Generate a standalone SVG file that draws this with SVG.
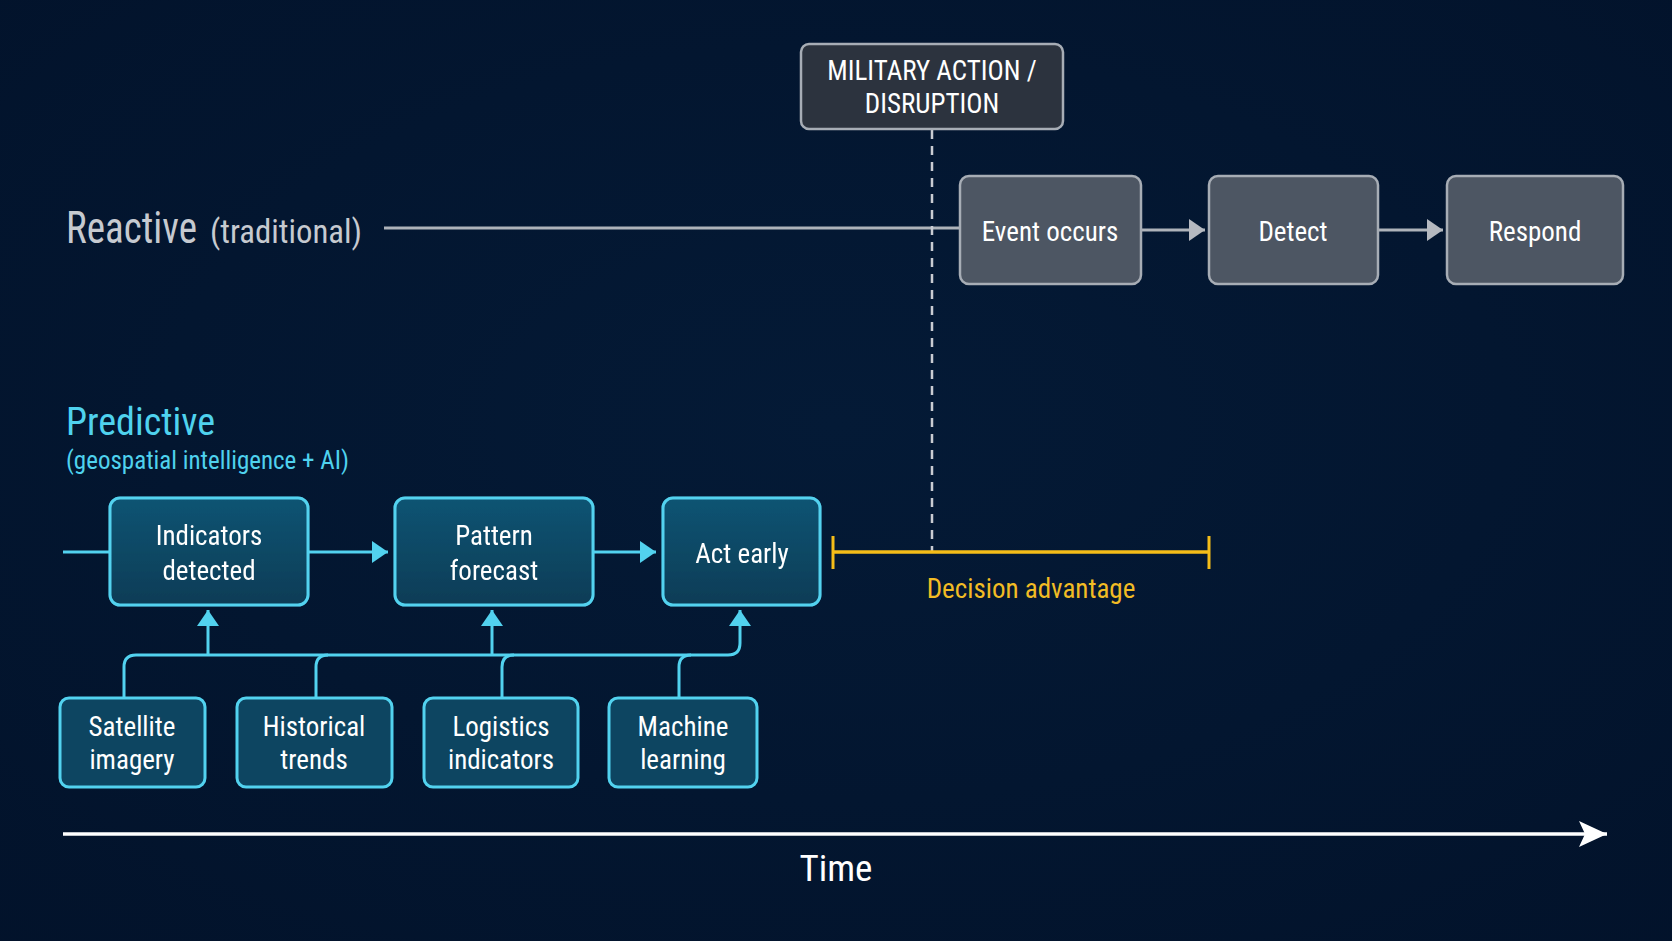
<svg xmlns="http://www.w3.org/2000/svg" width="1672" height="941" viewBox="0 0 1672 941">
<style>
text{font-family:"Liberation Sans Narrow","Roboto Condensed","DejaVu Sans Condensed",Roboto,sans-serif;}
.grey rect{fill:#4d5663;stroke:#a7adb5;stroke-width:2.5;}
.dark rect{fill:#2c333e;stroke:#a7adb5;stroke-width:2.5;}
.cy rect{fill:#0d4561;stroke:#52d2ef;stroke-width:3;}
.lbl{fill:#ffffff;font-size:27px;text-anchor:middle;}
.cyl{stroke:#52d2ef;stroke-width:3;fill:none;}
.gl{stroke:#aeb3ba;stroke-width:3;fill:none;}
</style>
<defs>
<radialGradient id="bg" cx="0.5" cy="0.45" r="0.8">
<stop offset="0" stop-color="#041a36"/>
<stop offset="1" stop-color="#02122a"/>
</radialGradient>
<linearGradient id="cyg" x1="0" y1="0" x2="0" y2="1">
<stop offset="0" stop-color="#115473"/>
<stop offset="1" stop-color="#0b3c56"/>
</linearGradient>
<filter id="glow" x="-20%" y="-20%" width="140%" height="140%">
<feGaussianBlur in="SourceAlpha" stdDeviation="4"/>
<feFlood flood-color="#52d2ef" flood-opacity="0.35"/>
<feComposite operator="in" in2="SourceAlpha"/>
<feMerge><feMergeNode/><feMergeNode in="SourceGraphic"/></feMerge>
</filter>
<marker id="ac" markerUnits="userSpaceOnUse" viewBox="0 0 16 22" refX="16" refY="11" markerWidth="16" markerHeight="22" orient="auto">
<path d="M0,0 L16,11 L0,22 z" fill="#52d2ef"/>
</marker>
<marker id="ag" markerUnits="userSpaceOnUse" viewBox="0 0 16 22" refX="16" refY="11" markerWidth="16" markerHeight="22" orient="auto">
<path d="M0,0 L16,11 L0,22 z" fill="#b5b9c0"/>
</marker>
<marker id="at" markerUnits="userSpaceOnUse" viewBox="0 0 28 26" refX="28" refY="13" markerWidth="28" markerHeight="26" orient="auto">
<path d="M0,0 L28,13 L0,26 L6,13 z" fill="#ffffff"/>
</marker>
</defs>
<rect width="1672" height="941" fill="url(#bg)"/>

<!-- labels -->
<text x="66" y="243" fill="#c6cad0" font-size="45" textLength="131" lengthAdjust="spacingAndGlyphs">Reactive</text>
<text x="210" y="243" fill="#c6cad0" font-size="34" textLength="152" lengthAdjust="spacingAndGlyphs">(traditional)</text>
<text x="66" y="435" fill="#4fd2ee" font-size="38">Predictive</text>
<text x="66" y="469" fill="#4fd2ee" font-size="25">(geospatial intelligence + AI)</text>

<g id="connectors">
<line class="gl" x1="384" y1="228" x2="960" y2="228" stroke-width="2.5"/>
<line x1="932" y1="130" x2="932" y2="551" stroke="#c9ccd2" stroke-width="2.5" stroke-dasharray="9,7"/>
<line class="gl" x1="1141" y1="230" x2="1205" y2="230" marker-end="url(#ag)"/>
<line class="gl" x1="1378" y1="230" x2="1443" y2="230" marker-end="url(#ag)"/>
<line class="cyl" x1="63" y1="552" x2="110" y2="552"/>
<line class="cyl" x1="308" y1="552" x2="388" y2="552" marker-end="url(#ac)"/>
<line class="cyl" x1="593" y1="552" x2="656" y2="552" marker-end="url(#ac)"/>
<path class="cyl" d="M124,698 V667 Q124,655 136,655 H728 Q740,655 740,643 V610" marker-end="url(#ac)"/>
<path class="cyl" d="M316,698 V667 Q316,655 328,655"/>
<path class="cyl" d="M502,698 V667 Q502,655 514,655"/>
<path class="cyl" d="M679,698 V667 Q679,655 691,655"/>
<line class="cyl" x1="208" y1="655" x2="208" y2="610" marker-end="url(#ac)"/>
<line class="cyl" x1="492" y1="655" x2="492" y2="610" marker-end="url(#ac)"/>
<g id="decision-advantage">
<line x1="833" y1="552" x2="1209" y2="552" stroke="#f5bd18" stroke-width="3.5"/>
<line x1="833" y1="536" x2="833" y2="569" stroke="#f5bd18" stroke-width="3"/>
<line x1="1209" y1="536" x2="1209" y2="569" stroke="#f5bd18" stroke-width="3"/>
<text x="1031" y="598" fill="#f2bc24" font-size="27" text-anchor="middle">Decision advantage</text>
</g>
<line x1="63" y1="834" x2="1607" y2="834" stroke="#ffffff" stroke-width="3.5" marker-end="url(#at)"/>
</g>
<text x="836" y="881" fill="#ffffff" font-size="37" text-anchor="middle">Time</text>

<g id="military" class="dark">
<rect x="801" y="44" width="262" height="85" rx="8"/>
<text class="lbl" x="932" y="80">MILITARY ACTION /</text>
<text class="lbl" x="932" y="113">DISRUPTION</text>
</g>
<g id="event" class="grey">
<rect x="960" y="176" width="181" height="108" rx="9"/>
<text class="lbl" x="1050" y="241">Event occurs</text>
</g>
<g id="detect" class="grey">
<rect x="1209" y="176" width="169" height="108" rx="9"/>
<text class="lbl" x="1293" y="241">Detect</text>
</g>
<g id="respond" class="grey">
<rect x="1447" y="176" width="176" height="108" rx="9"/>
<text class="lbl" x="1535" y="241">Respond</text>
</g>

<g id="indicators" class="cy" filter="url(#glow)">
<rect x="110" y="498" width="198" height="107" rx="10" style="fill:url(#cyg)"/>
<text class="lbl" x="209" y="545">Indicators</text>
<text class="lbl" x="209" y="580">detected</text>
</g>
<g id="pattern" class="cy" filter="url(#glow)">
<rect x="395" y="498" width="198" height="107" rx="10" style="fill:url(#cyg)"/>
<text class="lbl" x="494" y="545">Pattern</text>
<text class="lbl" x="494" y="580">forecast</text>
</g>
<g id="act" class="cy" filter="url(#glow)">
<rect x="663" y="498" width="157" height="107" rx="10" style="fill:url(#cyg)"/>
<text class="lbl" x="742" y="563">Act early</text>
</g>

<g id="satellite" class="cy">
<rect x="60" y="698" width="145" height="89" rx="9"/>
<text class="lbl" x="132" y="736">Satellite</text>
<text class="lbl" x="132" y="769">imagery</text>
</g>
<g id="historical" class="cy">
<rect x="237" y="698" width="155" height="89" rx="9"/>
<text class="lbl" x="314" y="736">Historical</text>
<text class="lbl" x="314" y="769">trends</text>
</g>
<g id="logistics" class="cy">
<rect x="424" y="698" width="154" height="89" rx="9"/>
<text class="lbl" x="501" y="736">Logistics</text>
<text class="lbl" x="501" y="769">indicators</text>
</g>
<g id="machine" class="cy">
<rect x="609" y="698" width="148" height="89" rx="9"/>
<text class="lbl" x="683" y="736">Machine</text>
<text class="lbl" x="683" y="769">learning</text>
</g>
</svg>
